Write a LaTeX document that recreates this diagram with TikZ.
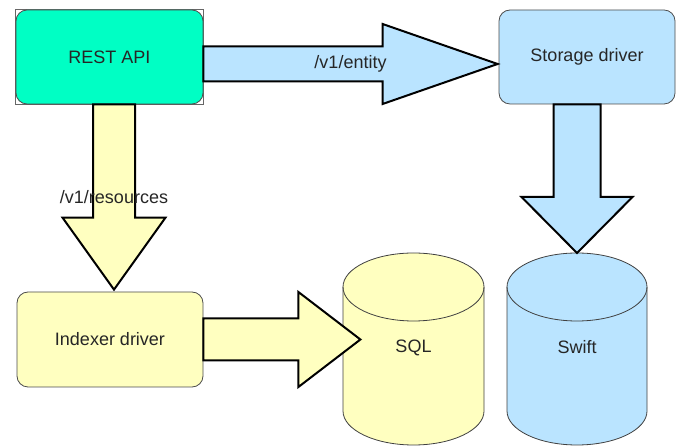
\documentclass[tikz,border=0pt]{standalone}
\usepackage{fontspec}
\setmainfont{Liberation Sans}
\usetikzlibrary{calc,backgrounds}
\definecolor{apigreen}{RGB}{0,255,196}
\definecolor{driveryellow}{RGB}{255,255,192}
\definecolor{storeblue}{RGB}{186,228,255}
\newcommand{\harrow}[6]{% start, tip, shaft half width, head half width, head length, options
\draw[#6] let \p1=(#1), \p2=(#2) in
	(\x1,\y2+#3) -- (\x2-#5,\y2+#3) -- (\x2-#5,\y2+#4) -- (\x2,\y2)
	-- (\x2-#5,\y2-#4) -- (\x2-#5,\y2-#3) -- (\x1,\y2-#3) -- cycle;
}
\newcommand{\varrow}[6]{% start, tip, shaft half width, head half width, head length, options
\draw[#6] let \p1=(#1), \p2=(#2) in
	(\x2-#3,\y1) -- (\x2-#3,\y2+#5) -- (\x2-#4,\y2+#5) -- (\x2,\y2)
	-- (\x2+#4,\y2+#5) -- (\x2+#3,\y2+#5) -- (\x2+#3,\y1) -- cycle;
}
\newcommand{\dbstore}[6]{% x centre, top, bottom, x radius, y radius, fill colour
\draw[storeline,fill=#6] (#1-#4,#2-#5) -- (#1-#4,#3+#5) arc (180:360:#4 and #5)
	-- (#1+#4,#2-#5) arc (0:180:#4 and #5) -- cycle;
\draw[storeline] (#1-#4,#2-#5) arc (180:360:#4 and #5);
}
\tikzset{
	drvbox/.style={draw=black!70,line width=0.8pt,rounded corners=11pt,minimum width=187pt,minimum height=94pt,text=black!85,font=\fontsize{18}{22}\selectfont},
	storeline/.style={draw=black!75,line width=0.8pt},
	bigarrow/.style={draw=black,line width=2pt,line join=miter},
	lbl/.style={text=black!85,font=\fontsize{18}{22}\selectfont}
}
\begin{document}
\begin{tikzpicture}[x=1pt,y=1pt]
	\useasboundingbox (0,0) rectangle (676,446);

	\node[drvbox,fill=apigreen] (rest) at (109.5,389) {REST API};
	\node[drvbox,fill=storeblue,minimum width=176pt] (storage) at (587,389) {Storage driver};
	\node[drvbox,fill=driveryellow,minimum width=186pt,minimum height=95pt] (indexer) at (110,106.5) {Indexer driver};

	% data stores
	\dbstore{413.5}{193}{1}{70.5}{34}{driveryellow}
	\dbstore{577}{193}{1}{70}{34}{storeblue}
	\node[lbl] (sql) at (413.5,98) {SQL};
	\node[lbl] (swift) at (577,99) {Swift};

	% selection frame
	\begin{scope}[on background layer]
		\draw[black!60,line width=0.6pt] (rest.south west) rectangle (rest.north east);
	\end{scope}

	\coordinate (entitytip) at ($(storage.west)+(-1,-7)$);
	\coordinate (swifttip) at (577,193);
	\coordinate (resourcetip) at ($(indexer.north)+(4,2)$);
	\coordinate (sqltip) at ($(indexer.east)+(157,0)$);

	\harrow{rest.east}{entitytip}{17.5}{40}{115}{bigarrow,fill=storeblue}
	\varrow{storage.south}{swifttip}{23.5}{55.5}{56}{bigarrow,fill=storeblue}
	\varrow{rest.south}{resourcetip}{21}{51.5}{72}{bigarrow,fill=driveryellow}
	\harrow{indexer.east}{sqltip}{21}{47.5}{62}{bigarrow,fill=driveryellow}

	\node[lbl] (entity) at ($(rest.east|-entitytip)!0.5!(entitytip)$) {/v1/entity};
	\node[lbl] (resources) at ($(rest.south-|resourcetip)!0.5!(resourcetip)$) {/v1/resources};
\end{tikzpicture}
\end{document}
